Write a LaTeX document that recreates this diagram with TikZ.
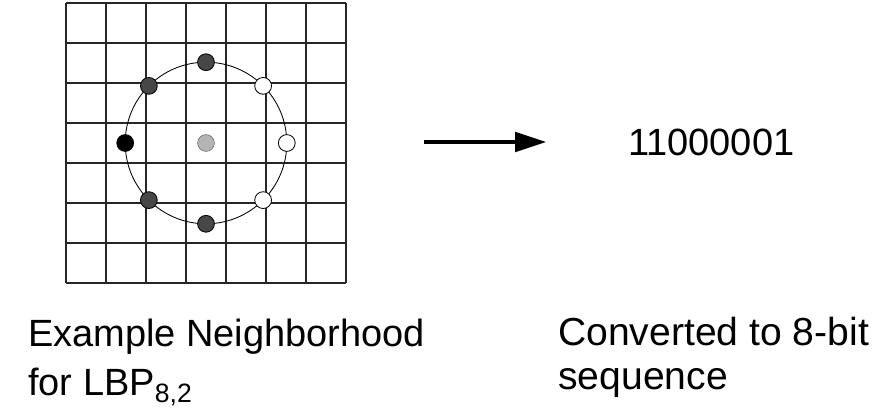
\documentclass[tikz,border=0pt]{standalone}
\usepackage{fontspec}
\setmainfont{Liberation Sans}
\usepackage{tikz}
\usetikzlibrary{arrows.meta, positioning, calc}
\definecolor{darkdot}{HTML}{474747}
\definecolor{centerdot}{HTML}{B4B4B4}
\tikzset{
	gridline/.style={draw=black!85, line width=0.9pt}
}
\tikzset{
	captiontext/.style={font=\fontsize{27}{34}\selectfont, inner sep=0pt, anchor=base west, align=left}
}

\begin{document}
\begin{tikzpicture}
      \useasboundingbox (-1.65,-3.125) rectangle (20.225,7.075);

      % 7x7 pixel grid
      \foreach \i in {0,...,7} {
        \draw[gridline] (\i,0) -- (\i,7);
        \draw[gridline] (0,\i) -- (7,\i);
      }

      % sampling circle, radius 2
      \coordinate (center) at (3.5,3.5);
      \draw[line width=0.6pt] (center) circle (2.02);

      % neighbours on the circle
      \foreach \a/\c in {0/white,45/white,90/darkdot,135/darkdot,
                         180/black,225/darkdot,270/darkdot,315/white} {
        \filldraw[fill=\c, draw=black, line width=0.6pt] ($(center)+(\a:2.02)$) circle (0.21);
      }
      % centre pixel
      \filldraw[fill=centerdot, draw=black!60, line width=0.4pt] (center) circle (0.21);

      % arrow to the bit string
      \coordinate (arrowstart) at (8.95,3.525);
      \coordinate (arrowend) at (12.0,3.525);
      \draw[line width=2.2pt, -{Triangle[length=22pt, width=14pt]}] (arrowstart) -- (arrowend);

      \node[captiontext] (bits) at (14.05,3.175) {11000001};

      % captions (base anchor sits on the last line)
      \node[captiontext, font=\fontsize{27}{34.9}\selectfont] (leftcap) at (-0.95,-2.825)
        {Example Neighborhood\\for LBP\textsubscript{8,2}};
      \node[captiontext, font=\fontsize{27.8}{32}\selectfont] (rightcap) at (12.3,-2.675)
        {Converted to 8-bit\\sequence};
\end{tikzpicture}
\end{document}
